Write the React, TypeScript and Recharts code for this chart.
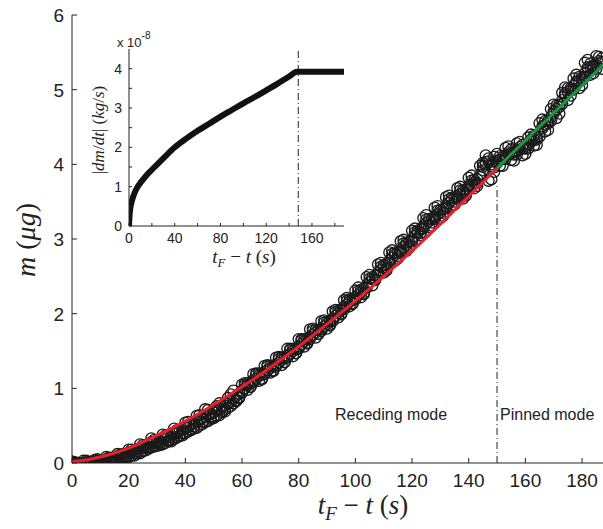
import React from "react";
import { ComposedChart, Scatter, Line, XAxis, YAxis, ReferenceLine, CartesianGrid } from "recharts";

const sans = "'Liberation Sans', Arial, sans-serif";
const serif = "'Liberation Serif', 'Times New Roman', serif";
const ink = "#222";

// measured droplet mass (µg), one reading per second from t = 0 s
const massA = [
  0.0, -0.01, 0.0, -0.01, 0.0, 0.01, 0.0, 0.02, 0.01, 0.03,
  0.02, 0.03, 0.05, 0.04, 0.07, 0.06, 0.09, 0.08, 0.12, 0.11,
  0.14, 0.15, 0.17, 0.19, 0.2, 0.21, 0.24, 0.25, 0.28, 0.27,
  0.3, 0.29, 0.32, 0.33, 0.36, 0.35, 0.39, 0.4, 0.43, 0.44,
  0.47, 0.48, 0.52, 0.53, 0.55, 0.57, 0.6, 0.62, 0.64, 0.66,
  0.68, 0.7, 0.72, 0.75, 0.77, 0.8, 0.83, 0.86, 0.9, 0.93,
  0.97, 1.0, 1.04, 1.07, 1.11, 1.13, 1.17, 1.18, 1.22, 1.24,
  1.27, 1.29, 1.32, 1.34, 1.38, 1.4, 1.44, 1.46, 1.5, 1.52,
  1.56, 1.59, 1.63, 1.66, 1.69, 1.72, 1.75, 1.78, 1.8, 1.83,
  1.86, 1.9, 1.93, 1.97, 2.01, 2.05, 2.09, 2.12, 2.16, 2.19,
  2.22, 2.25, 2.29, 2.33, 2.38, 2.42, 2.46, 2.51, 2.55, 2.58,
  2.62, 2.66, 2.71, 2.75, 2.79, 2.82, 2.85, 2.89, 2.92, 2.96,
  3.0, 3.04, 3.08, 3.13, 3.17, 3.21, 3.24, 3.27, 3.3, 3.33,
  3.36, 3.4, 3.44, 3.48, 3.52, 3.55, 3.57, 3.6, 3.62, 3.66,
  3.7, 3.73, 3.76, 3.8, 3.86, 3.92, 4.0, 4.04, 4.0, 3.96,
  4.02, 4.06, 4.1, 4.12, 4.13, 4.15, 4.16, 4.18, 4.2, 4.21,
  4.24, 4.26, 4.3, 4.33, 4.36, 4.42, 4.48, 4.53, 4.58, 4.63,
  4.68, 4.74, 4.8, 4.86, 4.92, 4.97, 5.02, 5.05, 5.08, 5.12,
  5.16, 5.22, 5.27, 5.3, 5.32, 5.33, 5.35, 5.37,
];

// noisier readings on the odd seconds (1, 3, 5, ...)
const massB = [
  0.01, -0.02, 0.03, 0.0, 0.05, 0.01, 0.07, 0.04, 0.11, 0.08,
  0.18, 0.16, 0.24, 0.21, 0.31, 0.26, 0.37, 0.31, 0.44, 0.4,
  0.55, 0.49, 0.64, 0.72, 0.61, 0.76, 0.7, 0.87, 0.97, 0.88,
  1.07, 1.02, 1.2, 1.12, 1.31, 1.23, 1.42, 1.35, 1.53, 1.47,
  1.66, 1.6, 1.8, 1.73, 1.91, 1.84, 2.05, 1.99, 2.21, 2.13,
  2.35, 2.26, 2.52, 2.45, 2.68, 2.58, 2.85, 2.74, 2.99, 2.88,
  3.14, 3.05, 3.32, 3.18, 3.44, 3.31, 3.58, 3.46, 3.7, 3.58,
  3.85, 3.71, 4.02, 3.78, 4.1, 3.98, 4.22, 4.06, 4.28, 4.12,
  4.36, 4.25, 4.55, 4.44, 4.74, 4.62, 4.96, 4.86, 5.15, 5.02,
  5.36, 5.2, 5.45, 5.28,
];

// noisier readings on the even seconds (0, 2, 4, ...)
const massC = [
  0.02, -0.02, 0.03, 0.01, 0.04, 0.0, 0.08, 0.03, 0.12, 0.08,
  0.18, 0.13, 0.25, 0.2, 0.33, 0.26, 0.38, 0.3, 0.46, 0.37,
  0.54, 0.45, 0.63, 0.55, 0.71, 0.62, 0.8, 0.72, 0.92, 0.84,
  1.05, 0.98, 1.19, 1.1, 1.3, 1.21, 1.41, 1.31, 1.53, 1.43,
  1.66, 1.56, 1.79, 1.68, 1.9, 1.8, 2.03, 1.95, 2.18, 2.1,
  2.31, 2.22, 2.49, 2.38, 2.66, 2.55, 2.82, 2.71, 2.97, 2.84,
  3.11, 3.0, 3.28, 3.16, 3.42, 3.28, 3.56, 3.44, 3.68, 3.54,
  3.82, 3.68, 3.98, 4.12, 3.8, 4.14, 3.98, 4.24, 4.05, 4.3,
  4.14, 4.4, 4.26, 4.6, 4.46, 4.8, 4.68, 5.03, 4.92, 5.2,
  5.06, 5.4, 5.22, 5.44,
];

// denser core readings, odd seconds
const massD = [
  -0.03, -0.03, -0.02, -0.01, -0.01, -0.01, 0.0, 0.01, 0.03, 0.06,
  0.1, 0.13, 0.16, 0.19, 0.22, 0.24, 0.27, 0.29, 0.34, 0.37,
  0.42, 0.46, 0.5, 0.55, 0.59, 0.63, 0.68, 0.74, 0.8, 0.87,
  1.04, 1.02, 1.18, 1.13, 1.29, 1.24, 1.39, 1.35, 1.51, 1.47,
  1.64, 1.61, 1.77, 1.73, 1.88, 1.85, 2.02, 2.0, 2.17, 2.14,
  2.3, 2.28, 2.47, 2.46, 2.63, 2.61, 2.8, 2.77, 2.94, 2.91,
  3.09, 3.08, 3.26, 3.22, 3.38, 3.35, 3.53, 3.5, 3.65, 3.61,
  3.78, 3.75, 3.97, 4.08, 3.9, 4.11, 4.07, 4.2, 4.13, 4.26,
  4.21, 4.38, 4.37, 4.58, 4.58, 4.79, 4.81, 5.02, 5.0, 5.17,
  5.17, 5.35, 5.28, 5.42,
];

// denser core readings, even seconds
const massE = [
  -0.02, -0.03, -0.02, -0.03, -0.02, -0.02, 0.0, 0.01, 0.03, 0.06,
  0.08, 0.1, 0.13, 0.17, 0.21, 0.23, 0.25, 0.29, 0.32, 0.36,
  0.4, 0.44, 0.47, 0.52, 0.56, 0.6, 0.64, 0.69, 0.76, 0.83,
  0.94, 1.07, 1.08, 1.2, 1.19, 1.3, 1.29, 1.41, 1.41, 1.53,
  1.53, 1.66, 1.66, 1.78, 1.77, 1.89, 1.9, 2.04, 2.06, 2.19,
  2.19, 2.32, 2.35, 2.49, 2.52, 2.65, 2.68, 2.82, 2.82, 2.95,
  2.97, 3.11, 3.14, 3.27, 3.27, 3.39, 3.41, 3.55, 3.54, 3.65,
  3.67, 3.79, 3.83, 4.03, 3.97, 4.05, 4.07, 4.16, 4.13, 4.23,
  4.21, 4.33, 4.33, 4.51, 4.55, 4.71, 4.77, 4.95, 4.99, 5.11,
  5.13, 5.3, 5.29, 5.38,
];

// receding-mode fit (red) and pinned-mode fit (green)
const recedeT = [0, 5, 10, 20, 30, 40, 50, 60, 70, 80, 90, 100, 110, 120, 130, 140, 150];
const recedeM = [0.02, 0.04, 0.08, 0.2, 0.37, 0.56, 0.78, 1.02, 1.28, 1.56, 1.86, 2.17, 2.5, 2.84, 3.2, 3.57, 3.95];
const pinnedT = [150, 188];
const pinnedM = [3.95, 5.35];

// inset: |dm/dt| in units of 1e-8 kg/s
const rateT = [0, 0.5, 1, 2, 3, 5, 7, 10, 15, 20, 30, 40, 50, 60, 70, 80, 90, 100, 110, 120, 130, 140, 147, 188];
const rateV = [0, 0.28, 0.42, 0.58, 0.69, 0.85, 0.97, 1.1, 1.28, 1.43, 1.72, 2.0, 2.22, 2.42, 2.6, 2.78, 2.95, 3.12, 3.28, 3.45, 3.62, 3.8, 3.92, 3.92];

const mainXTicks = [0, 20, 40, 60, 80, 100, 120, 140, 160, 180];
const mainYTicks = [0, 1, 2, 3, 4, 5, 6];
const insetXTicks = [0, 20, 40, 60, 80, 100, 120, 140, 160, 180];
const insetXLabels = [0, 40, 80, 120, 160];
const insetYTicks = [0, 0.5, 1, 1.5, 2, 2.5, 3, 3.5, 4];
const insetYLabels = [0, 1, 2, 3, 4];

const ptsA = massA.map((m, i) => ({ t: i, m }));
const ptsB = massB.map((m, i) => ({ t: 2 * i + 1, m }));
const ptsC = massC.map((m, i) => ({ t: 2 * i, m }));
const ptsD = massD.map((m, i) => ({ t: 2 * i + 1, m }));
const ptsE = massE.map((m, i) => ({ t: 2 * i, m }));
const recede = recedeT.map((t, i) => ({ t, m: recedeM[i] }));
const pinned = pinnedT.map((t, i) => ({ t, m: pinnedM[i] }));
const rate = rateT.map((t, i) => ({ t, m: rateV[i] }));

const ring = (p: any) => (
  <circle cx={p.cx} cy={p.cy} r={5.5} fill="none" stroke="#1a1a1a" strokeWidth={1.35} />
);
const noDot = () => <g />;

// inward tick marks, matlab style
const bottomTick = (len: number, fs: number, gap: number, labels?: number[]) => (p: any) => {
  const v = p.payload.value;
  const show = !labels || labels.includes(v);
  return (
    <g>
      <line x1={p.x} x2={p.x} y1={p.y} y2={p.y - len} stroke={ink} />
      {show && (
        <text x={p.x} y={p.y + gap} textAnchor="middle" fontSize={fs} fontFamily={sans} fill={ink}>
          {v}
        </text>
      )}
    </g>
  );
};

const leftTick = (len: number, fs: number, gap: number, labels?: number[]) => (p: any) => {
  const v = p.payload.value;
  const show = !labels || labels.includes(v);
  return (
    <g>
      <line x1={p.x} x2={p.x + len} y1={p.y} y2={p.y} stroke={ink} />
      {show && (
        <text x={p.x - gap} y={p.y + fs * 0.36} textAnchor="end" fontSize={fs} fontFamily={sans} fill={ink}>
          {v}
        </text>
      )}
    </g>
  );
};

const topTick = (len: number) => (p: any) => (
  <line x1={p.x} x2={p.x} y1={p.y} y2={p.y + len} stroke={ink} />
);

const rightTick = (len: number) => (p: any) => (
  <line x1={p.x} x2={p.x - len} y1={p.y} y2={p.y} stroke={ink} />
);

const axisLine = { stroke: ink, strokeWidth: 1 };

export default function App() {
  return (
    <div style={{ position: "absolute", left: 0, top: 0, width: 603, height: 529, overflow: "hidden", background: "#fff" }}>
      <ComposedChart width={606} height={529} margin={{ top: 15, right: 1, bottom: 36, left: 12 }}>
        <XAxis
          dataKey="t"
          type="number"
          domain={[0, 188.1]}
          ticks={mainXTicks}
          interval={0}
          allowDataOverflow
          height={30}
          tickSize={0}
          tickMargin={0}
          axisLine={axisLine}
          tick={bottomTick(5, 19, 24)}
        />
        <XAxis
          xAxisId="top"
          orientation="top"
          type="number"
          domain={[0, 188.1]}
          ticks={mainXTicks}
          interval={0}
          height={0}
          tickSize={0}
          tickMargin={0}
          axisLine={axisLine}
          tick={topTick(5)}
        />
        <YAxis
          dataKey="m"
          type="number"
          domain={[0, 6]}
          ticks={mainYTicks}
          interval={0}
          allowDataOverflow
          width={60}
          tickSize={0}
          tickMargin={0}
          axisLine={axisLine}
          tick={leftTick(5, 19, 8)}
        />
        <YAxis
          yAxisId="right"
          orientation="right"
          type="number"
          domain={[0, 6]}
          ticks={mainYTicks}
          interval={0}
          width={0}
          tickSize={0}
          tickMargin={0}
          axisLine={axisLine}
          tick={rightTick(5)}
        />
        <ReferenceLine
          segment={[{ x: 150, y: 0 }, { x: 150, y: 3.72 }]}
          stroke={ink}
          strokeWidth={1}
          strokeDasharray="7 3 1 3"
        />
        <Scatter data={ptsA} dataKey="m" shape={ring} isAnimationActive={false} />
        <Scatter data={ptsB} dataKey="m" shape={ring} isAnimationActive={false} />
        <Scatter data={ptsC} dataKey="m" shape={ring} isAnimationActive={false} />
        <Scatter data={ptsD} dataKey="m" shape={ring} isAnimationActive={false} />
        <Scatter data={ptsE} dataKey="m" shape={ring} isAnimationActive={false} />
        <Scatter
          data={recede}
          dataKey="m"
          shape={noDot}
          line={{ stroke: "#e8202a", strokeWidth: 3 }}
          lineJointType="monotoneX"
          isAnimationActive={false}
        />
        <Scatter
          data={pinned}
          dataKey="m"
          shape={noDot}
          line={{ stroke: "#1a9645", strokeWidth: 3 }}
          isAnimationActive={false}
        />
      </ComposedChart>

      <div style={{ position: "absolute", left: 84, top: 47 }}>
        <ComposedChart width={262} height={199} margin={{ top: 2, right: 2, bottom: 0, left: 0 }}>
          <CartesianGrid horizontal={false} vertical={false} fill="#fff" />
          <XAxis
            dataKey="t"
            type="number"
            domain={[0, 188]}
            ticks={insetXTicks}
            interval={0}
            allowDataOverflow
            height={20}
            tickSize={0}
            tickMargin={0}
            axisLine={axisLine}
            tick={bottomTick(3, 14, 17, insetXLabels)}
          />
          <XAxis xAxisId="top" orientation="top" type="number" domain={[0, 188]} height={0} axisLine={axisLine} tick={false} tickLine={false} />
          <YAxis
            dataKey="m"
            type="number"
            domain={[0, 4.5]}
            ticks={insetYTicks}
            interval={0}
            allowDataOverflow
            width={45}
            tickSize={0}
            tickMargin={0}
            axisLine={axisLine}
            tick={leftTick(3, 14, 7, insetYLabels)}
          />
          <YAxis yAxisId="right" orientation="right" type="number" domain={[0, 4.5]} width={0} axisLine={axisLine} tick={false} tickLine={false} />
          <ReferenceLine x={148} stroke={ink} strokeWidth={1} strokeDasharray="7 3 1 3" />
          <Line data={rate} dataKey="m" type="monotone" stroke="#111" strokeWidth={6} dot={false} isAnimationActive={false} />
        </ComposedChart>
      </div>

      <svg width={603} height={529} style={{ position: "absolute", left: 0, top: 0, pointerEvents: "none" }}>
        <g fontFamily={sans} fill={ink} fontSize={16}>
          <text x={335} y={420}>Receding mode</text>
          <text x={500} y={420}>Pinned mode</text>
        </g>
        <text x={117} y={47} fontFamily={sans} fontSize={13} fill={ink}>
          x 10<tspan dy={-8} fontSize={10}>-8</tspan>
        </text>
        <text x={363} y={514} textAnchor="middle" fontFamily={serif} fontSize={27} fill={ink}>
          <tspan fontStyle="italic">t</tspan>
          <tspan fontStyle="italic" fontSize={19} dy={6}>F</tspan>
          <tspan dy={-6}>{" − "}</tspan>
          <tspan fontStyle="italic">t</tspan>
          <tspan>{"  ("}</tspan>
          <tspan fontStyle="italic">s</tspan>
          <tspan>)</tspan>
        </text>
        <text transform="translate(35,240) rotate(-90)" textAnchor="middle" fontFamily={serif} fontSize={28} fill={ink}>
          <tspan fontStyle="italic">m</tspan>
          <tspan>{"  ("}</tspan>
          <tspan fontStyle="italic">μg</tspan>
          <tspan>)</tspan>
        </text>
        <text x={244} y={263} textAnchor="middle" fontFamily={serif} fontSize={19} fill={ink}>
          <tspan fontStyle="italic">t</tspan>
          <tspan fontStyle="italic" fontSize={13} dy={4}>F</tspan>
          <tspan dy={-4}>{" − "}</tspan>
          <tspan fontStyle="italic">t</tspan>
          <tspan>{"  ("}</tspan>
          <tspan fontStyle="italic">s</tspan>
          <tspan>)</tspan>
        </text>
        <text transform="translate(104,130) rotate(-90)" textAnchor="middle" fontFamily={serif} fontSize={17} fill={ink}>
          <tspan>|</tspan>
          <tspan fontStyle="italic">dm</tspan>
          <tspan>/</tspan>
          <tspan fontStyle="italic">dt</tspan>
          <tspan>{"|  ("}</tspan>
          <tspan fontStyle="italic">kg</tspan>
          <tspan>/</tspan>
          <tspan fontStyle="italic">s</tspan>
          <tspan>)</tspan>
        </text>
      </svg>
    </div>
  );
}
